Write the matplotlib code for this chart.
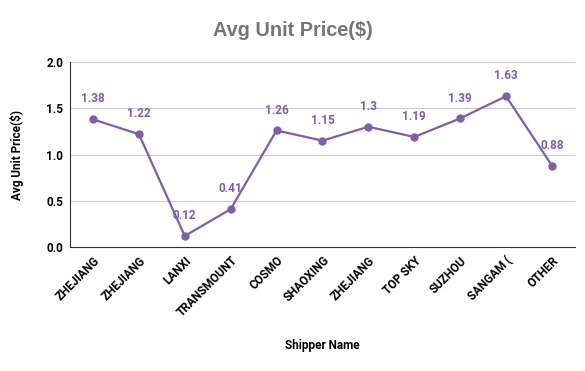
import matplotlib.pyplot as plt

shippers = ["ZHEJIANG", "ZHEJIANG", "LANXI", "TRANSMOUNT", "COSMO", "SHAOXING",
            "ZHEJIANG", "TOP SKY", "SUZHOU", "SANGAM (", "OTHER"]
avg_price = [1.38, 1.22, 0.12, 0.41, 1.26, 1.15, 1.3, 1.19, 1.39, 1.63, 0.88]
point_labels = ["1.38", "1.22", "0.12", "0.41", "1.26", "1.15", "1.3", "1.19", "1.39", "1.63", "0.88"]

purple = "#7e5fa8"

fig = plt.figure(figsize=(5.85, 3.71), dpi=100)
ax = fig.add_axes([0.1197, 0.334, 0.863, 0.499])

x = range(len(shippers))
ax.plot(x, avg_price, color=purple, linewidth=1.6, marker="o", markersize=5)

# Data labels above each point
for i, (v, lab) in enumerate(zip(avg_price, point_labels)):
    ax.annotate(lab, (i, v), xytext=(0, 10), textcoords="offset points",
                ha="center", va="bottom", color=purple, fontsize=8.5,
                fontweight="bold", family="Roboto")

ax.set_xlim(-0.5, len(shippers) - 0.5)
ax.set_ylim(0, 2.0)
ax.set_yticks([0, 0.5, 1.0, 1.5, 2.0])
ax.set_yticklabels(["0.0", "0.5", "1.0", "1.5", "2.0"], fontsize=8.5,
                   fontweight="bold", family="Roboto")
ax.set_xticks(list(x))
ax.set_xticklabels(shippers, rotation=45, ha="right", rotation_mode="anchor",
                   fontsize=8.5, fontweight="bold", family="Roboto")
ax.tick_params(length=0, pad=5)

ax.grid(axis="y", color="#cccccc", linewidth=0.8)
ax.set_axisbelow(True)
for s in ["top", "right"]:
    ax.spines[s].set_visible(False)
ax.spines["left"].set_color("#333333")
ax.spines["bottom"].set_color("#333333")

ax.set_xlabel("Shipper Name", fontsize=8.5, fontweight="bold", family="Roboto", labelpad=14)
ax.set_ylabel("Avg Unit Price($)", fontsize=8.5, fontweight="bold", family="Roboto", labelpad=16)

fig.text(0.5, 0.918, "Avg Unit Price($)", ha="center", va="center", fontsize=14.3,
         fontweight="bold", color="#757575", family="Liberation Sans")

plt.savefig("out.png", dpi=100)
plt.close()
